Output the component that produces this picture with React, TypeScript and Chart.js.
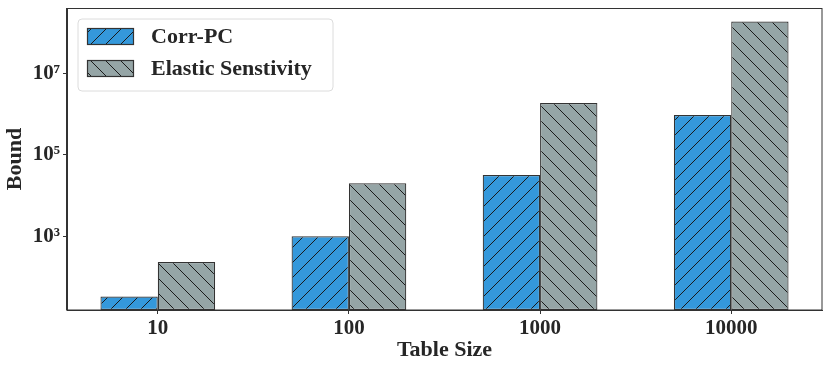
import React, { useEffect, useRef } from 'react';
import { Chart, registerables } from 'chart.js';

Chart.register(...registerables);

const categories = ['10', '100', '1000', '10000'];
const corrPC = [33, 1000, 32000, 960000];
const elasticSens = [233, 20000, 1.9e6, 1.9e8];
const yTickValues = [1e3, 1e5, 1e7];
const yTickLabels = ['10³', '10⁵', '10⁷'];
const seriesLabels = ['Corr-PC', 'Elastic Senstivity'];
const seriesColors = ['#3498db', '#95a5a6'];
const seriesHatch = ['/', '\\'];

const FONT = '"Liberation Serif", "Times New Roman", serif';
const TEXT = '#262626';
const EDGE = '#333333';

function makeHatch(bg: string, dir: string): CanvasPattern | string {
  const s = 15;
  const c = document.createElement('canvas');
  c.width = s;
  c.height = s;
  const g = c.getContext('2d');
  if (!g) return bg;
  g.fillStyle = bg;
  g.fillRect(0, 0, s, s);
  g.strokeStyle = '#1a1a1a';
  g.lineWidth = 1;
  g.beginPath();
  for (const k of [-s, 0, s]) {
    if (dir === '/') {
      g.moveTo(k - 1, s + 1);
      g.lineTo(k + s + 1, -1);
    } else {
      g.moveTo(k - 1, -1);
      g.lineTo(k + s + 1, s + 1);
    }
  }
  g.stroke();
  const p = g.createPattern(c, 'repeat');
  return p || bg;
}

const framePlugin = {
  id: 'frame',
  afterDatasetsDraw(chart: any) {
    const { ctx, chartArea } = chart;
    ctx.save();
    ctx.strokeStyle = EDGE;
    ctx.lineWidth = 1;
    ctx.strokeRect(
      Math.round(chartArea.left) - 0.5,
      Math.round(chartArea.top) + 0.5,
      Math.round(chartArea.right - chartArea.left) + 0.5,
      Math.round(chartArea.bottom - chartArea.top) - 0.5
    );
    ctx.restore();
  },
};

const legendPlugin = {
  id: 'boxLegend',
  afterDraw(chart: any) {
    const { ctx, chartArea } = chart;
    const x0 = chartArea.left + 11;
    const y0 = chartArea.top + 11;
    const w = 255;
    const h = 72;
    const r = 4;
    ctx.save();
    ctx.beginPath();
    ctx.moveTo(x0 + r, y0);
    ctx.lineTo(x0 + w - r, y0);
    ctx.quadraticCurveTo(x0 + w, y0, x0 + w, y0 + r);
    ctx.lineTo(x0 + w, y0 + h - r);
    ctx.quadraticCurveTo(x0 + w, y0 + h, x0 + w - r, y0 + h);
    ctx.lineTo(x0 + r, y0 + h);
    ctx.quadraticCurveTo(x0, y0 + h, x0, y0 + h - r);
    ctx.lineTo(x0, y0 + r);
    ctx.quadraticCurveTo(x0, y0, x0 + r, y0);
    ctx.closePath();
    ctx.fillStyle = 'rgba(255,255,255,0.85)';
    ctx.fill();
    ctx.strokeStyle = '#dcdcdc';
    ctx.lineWidth = 1;
    ctx.stroke();
    chart.data.datasets.forEach((ds: any, i: number) => {
      const px = x0 + 9;
      const py = y0 + 9 + i * 32;
      ctx.fillStyle = ds.backgroundColor;
      ctx.fillRect(px, py, 46, 16);
      ctx.strokeStyle = EDGE;
      ctx.lineWidth = 1.2;
      ctx.strokeRect(px + 0.5, py + 0.5, 46, 16);
      ctx.fillStyle = TEXT;
      ctx.font = `bold 22px ${FONT}`;
      ctx.textBaseline = 'middle';
      ctx.textAlign = 'left';
      ctx.fillText(ds.label, x0 + 73, py + 9);
    });
    ctx.restore();
  },
};

export default function App() {
  const ref = useRef<HTMLCanvasElement | null>(null);

  useEffect(() => {
    document.body.style.margin = '0';
    const canvas = ref.current;
    if (!canvas) return;
    const seriesValues = [corrPC, elasticSens];
    const chart = new Chart(canvas, {
      type: 'bar',
      data: {
        datasets: seriesValues.map((vals, si) => ({
          label: seriesLabels[si],
          data: vals.map((v, i) => ({ x: i, y: v })),
          backgroundColor: makeHatch(seriesColors[si], seriesHatch[si]) as any,
          borderColor: EDGE,
          borderWidth: 1.2,
          borderSkipped: false,
          categoryPercentage: 0.6,
          barPercentage: 1.0,
        })),
      },
      options: {
        animation: false,
        responsive: false,
        maintainAspectRatio: false,
        layout: { padding: { top: 8, right: 9, left: 0, bottom: 0 } },
        plugins: {
          legend: { display: false },
          tooltip: { enabled: false },
        },
        scales: {
          x: {
            type: 'linear',
            min: -0.475,
            max: 3.475,
            offset: false,
            afterBuildTicks: (axis: any) => {
              axis.ticks = categories.map((_, i) => ({ value: i }));
            },
            afterFit: (s: any) => {
              s.height = 56;
              s.paddingLeft = 0;
              s.paddingRight = 0;
            },
            ticks: {
              autoSkip: false,
              maxRotation: 0,
              padding: 2,
              color: TEXT,
              font: { family: FONT, size: 21, weight: 'bold' },
              callback: (v: any) => categories[Math.round(Number(v))] ?? '',
            },
            grid: { offset: false, drawOnChartArea: false, drawTicks: true, tickLength: 4, color: EDGE },
            border: { display: true, color: EDGE, width: 1 },
            title: {
              display: true,
              text: 'Table Size',
              color: TEXT,
              font: { family: FONT, size: 22, weight: 'bold' },
              padding: { top: 0, bottom: 2 },
            },
          },
          y: {
            type: 'logarithmic',
            min: 15.4,
            max: 4.1e8,
            afterBuildTicks: (axis: any) => {
              axis.ticks = yTickValues.map((v) => ({ value: v }));
            },
            afterFit: (s: any) => {
              s.width = 67;
              s.paddingTop = 0;
              s.paddingBottom = 0;
            },
            ticks: {
              autoSkip: false,
              padding: 3,
              color: TEXT,
              font: { family: FONT, size: 21, weight: 'bold' },
              callback: (_v: any, idx: number) => yTickLabels[idx] ?? '',
            },
            grid: { drawOnChartArea: false, drawTicks: true, tickLength: 4, color: EDGE },
            border: { display: true, color: EDGE, width: 1 },
            title: {
              display: true,
              text: 'Bound',
              color: TEXT,
              font: { family: FONT, size: 22, weight: 'bold' },
              padding: { top: 2, bottom: 0 },
            },
          },
        },
      } as any,
      plugins: [framePlugin, legendPlugin],
    });
    return () => chart.destroy();
  }, []);

  return (
    <div style={{ width: 831, height: 366 }}>
      <canvas ref={ref} width={831} height={366} style={{ display: 'block', width: 831, height: 366 }} />
    </div>
  );
}
